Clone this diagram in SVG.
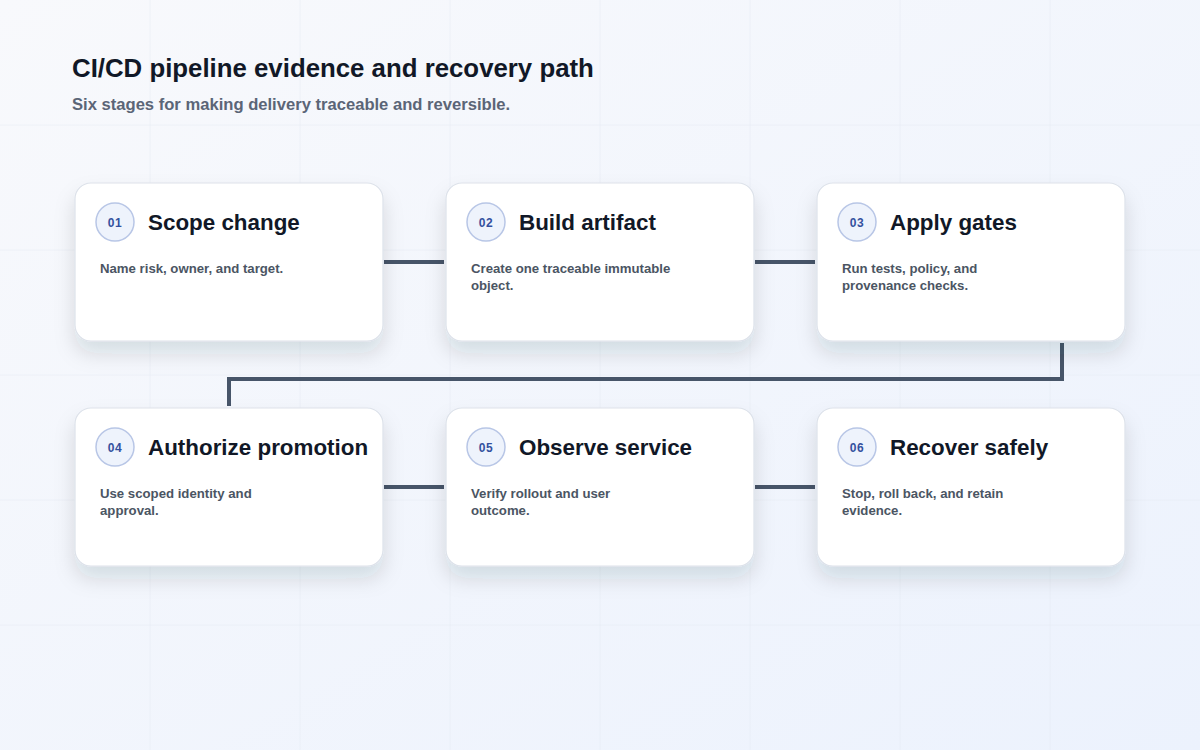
<svg xmlns="http://www.w3.org/2000/svg" width="1200" height="750" viewBox="0 0 1200 750">
  <defs>
    <linearGradient id="bg" x1="0" y1="0" x2="1" y2="1">
      <stop offset="0" stop-color="#f8f9fc"/>
      <stop offset="1" stop-color="#ecf2fd"/>
    </linearGradient>
    <filter id="shadow" x="-20%" y="-20%" width="140%" height="160%">
      <feDropShadow dx="0" dy="12" stdDeviation="10" flood-color="#1e293b" flood-opacity="0.13"/>
    </filter>
    <style>
      .grid { stroke: #e3e8f1; stroke-width: 1; opacity: 0.45; }
      .card { fill: #ffffff; stroke: #dde2ea; stroke-width: 1.2; filter: url(#shadow); }
      .badge { fill: #eef3fc; stroke: #b8c6e6; stroke-width: 1.5; }
      .num { font-family: "Liberation Sans", Arial, sans-serif; font-size: 12px; font-weight: bold; fill: #34519f; text-anchor: middle; letter-spacing: 0.5px; }
      .ttl { font-family: "Liberation Sans", Arial, sans-serif; font-size: 22.4px; font-weight: bold; fill: #111827; }
      .desc { font-family: "Liberation Sans", Arial, sans-serif; font-size: 13.2px; font-weight: bold; fill: #4b5563; }
      .conn { fill: none; stroke: #475569; stroke-width: 4; stroke-linecap: butt; stroke-linejoin: miter; }
    </style>
  </defs>

  <rect x="0" y="0" width="1200" height="750" fill="url(#bg)"/>
  <g id="grid">
    <line class="grid" x1="150" y1="0" x2="150" y2="750"/>
    <line class="grid" x1="300" y1="0" x2="300" y2="750"/>
    <line class="grid" x1="450" y1="0" x2="450" y2="750"/>
    <line class="grid" x1="600" y1="0" x2="600" y2="750"/>
    <line class="grid" x1="750" y1="0" x2="750" y2="750"/>
    <line class="grid" x1="900" y1="0" x2="900" y2="750"/>
    <line class="grid" x1="1050" y1="0" x2="1050" y2="750"/>
    <line class="grid" x1="0" y1="125" x2="1200" y2="125"/>
    <line class="grid" x1="0" y1="250" x2="1200" y2="250"/>
    <line class="grid" x1="0" y1="375" x2="1200" y2="375"/>
    <line class="grid" x1="0" y1="500" x2="1200" y2="500"/>
    <line class="grid" x1="0" y1="625" x2="1200" y2="625"/>
  </g>

  <g id="header">
    <text x="72" y="77" font-family="Liberation Sans, Arial, sans-serif" font-size="25.8" font-weight="bold" fill="#111827">CI/CD pipeline evidence and recovery path</text>
    <text x="72" y="110" font-family="Liberation Sans, Arial, sans-serif" font-size="16.6" font-weight="bold" fill="#5b6577">Six stages for making delivery traceable and reversible.</text>
  </g>

  <g id="connectors">
    <line class="conn" x1="384" y1="262" x2="444" y2="262"/>
    <line class="conn" x1="755" y1="262" x2="815" y2="262"/>
    <path class="conn" d="M1062 343 V379 H229 V406"/>
    <line class="conn" x1="384" y1="487" x2="444" y2="487"/>
    <line class="conn" x1="755" y1="487" x2="815" y2="487"/>
  </g>

  <g id="node-01">
    <rect class="card" x="75" y="183" width="308" height="158" rx="16"/>
    <circle class="badge" cx="115" cy="222" r="19"/>
    <text class="num" x="115" y="226.5">01</text>
    <text class="ttl" x="148" y="230">Scope change</text>
    <text class="desc" x="100" y="273">Name risk, owner, and target.</text>
  </g>

  <g id="node-02">
    <rect class="card" x="446" y="183" width="308" height="158" rx="16"/>
    <circle class="badge" cx="486" cy="222" r="19"/>
    <text class="num" x="486" y="226.5">02</text>
    <text class="ttl" x="519" y="230">Build artifact</text>
    <text class="desc" x="471" y="273">Create one traceable immutable</text>
    <text class="desc" x="471" y="290">object.</text>
  </g>

  <g id="node-03">
    <rect class="card" x="817" y="183" width="308" height="158" rx="16"/>
    <circle class="badge" cx="857" cy="222" r="19"/>
    <text class="num" x="857" y="226.5">03</text>
    <text class="ttl" x="890" y="230">Apply gates</text>
    <text class="desc" x="842" y="273">Run tests, policy, and</text>
    <text class="desc" x="842" y="290">provenance checks.</text>
  </g>

  <g id="node-04">
    <rect class="card" x="75" y="408" width="308" height="158" rx="16"/>
    <circle class="badge" cx="115" cy="447" r="19"/>
    <text class="num" x="115" y="451.5">04</text>
    <text class="ttl" x="148" y="455">Authorize promotion</text>
    <text class="desc" x="100" y="498">Use scoped identity and</text>
    <text class="desc" x="100" y="515">approval.</text>
  </g>

  <g id="node-05">
    <rect class="card" x="446" y="408" width="308" height="158" rx="16"/>
    <circle class="badge" cx="486" cy="447" r="19"/>
    <text class="num" x="486" y="451.5">05</text>
    <text class="ttl" x="519" y="455">Observe service</text>
    <text class="desc" x="471" y="498">Verify rollout and user</text>
    <text class="desc" x="471" y="515">outcome.</text>
  </g>

  <g id="node-06">
    <rect class="card" x="817" y="408" width="308" height="158" rx="16"/>
    <circle class="badge" cx="857" cy="447" r="19"/>
    <text class="num" x="857" y="451.5">06</text>
    <text class="ttl" x="890" y="455">Recover safely</text>
    <text class="desc" x="842" y="498">Stop, roll back, and retain</text>
    <text class="desc" x="842" y="515">evidence.</text>
  </g>
</svg>
